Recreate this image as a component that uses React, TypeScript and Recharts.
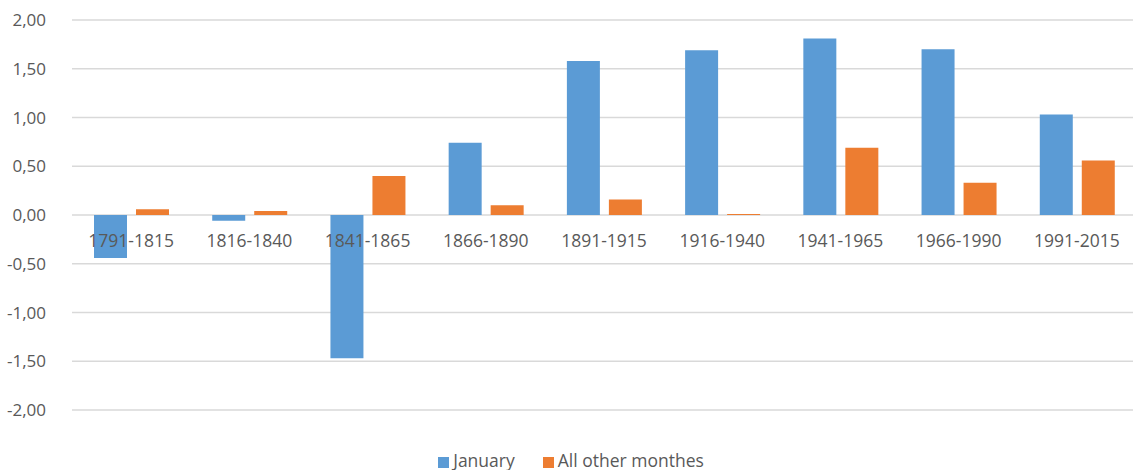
import { BarChart, Bar, XAxis, YAxis, CartesianGrid, Legend } from "recharts";

const periods = [
  "1791-1815",
  "1816-1840",
  "1841-1865",
  "1866-1890",
  "1891-1915",
  "1916-1940",
  "1941-1965",
  "1966-1990",
  "1991-2015",
];
const january = [-0.44, -0.06, -1.47, 0.74, 1.58, 1.69, 1.81, 1.7, 1.03];
const otherMonths = [0.06, 0.04, 0.4, 0.1, 0.16, 0.01, 0.69, 0.33, 0.56];
const yTicks = [-2, -1.5, -1, -0.5, 0, 0.5, 1, 1.5, 2];

const data = periods.map((p, i) => ({
  period: p,
  January: january[i],
  "All other monthes": otherMonths[i],
}));

const W = 1133;
const H = 470;
const TOP = 20;
const PLOT_H = 390;
const FONT = "'Open Sans', 'Noto Sans', sans-serif";
const TEXT = "#595959";

// category labels sit just under the zero line, not at the bottom
function PeriodTick(props: any) {
  const { x, payload } = props;
  const zeroY = TOP + PLOT_H / 2;
  return (
    <text
      x={x}
      y={zeroY + 27}
      textAnchor="middle"
      dominantBaseline="middle"
      fill={TEXT}
      fontSize={17.5}
      fontFamily={FONT}
    >
      {payload.value}
    </text>
  );
}

export default function App() {
  return (
    <div style={{ position: "absolute", left: 0, top: 0, background: "#fff" }}>
      <BarChart
        width={W}
        height={H}
        data={data}
        margin={{ top: TOP, right: -3, bottom: 0, left: 0 }}
        barCategoryGap={22}
        barGap={9}
      >
        <CartesianGrid vertical={false} stroke="#d9d9d9" strokeWidth={1.3} />
        <XAxis
          dataKey="period"
          height={36}
          axisLine={false}
          tickLine={false}
          interval={0}
          tick={<PeriodTick />}
        />
        <YAxis
          width={72}
          domain={[-2, 2]}
          ticks={yTicks}
          axisLine={false}
          tickLine={false}
          tickMargin={20}
          tick={{ fontSize: 17, fill: TEXT, fontFamily: FONT }}
          tickFormatter={(v: number) => v.toFixed(2).replace(".", ",")}
        />
        <Legend
          verticalAlign="bottom"
          height={24}
          iconType="square"
          iconSize={11}
          itemSorter={() => 0}
          wrapperStyle={{
            fontSize: 17.5,
            fontFamily: FONT,
            color: TEXT,
            lineHeight: "28px",
            paddingLeft: 34,
            boxSizing: "border-box",
          }}
          formatter={(v: string) => <span style={{ color: TEXT, marginRight: 18 }}>{v}</span>}
        />
        <Bar dataKey="January" fill="#5B9BD5" isAnimationActive={false} />
        <Bar dataKey="All other monthes" fill="#ED7D31" isAnimationActive={false} />
      </BarChart>
    </div>
  );
}
